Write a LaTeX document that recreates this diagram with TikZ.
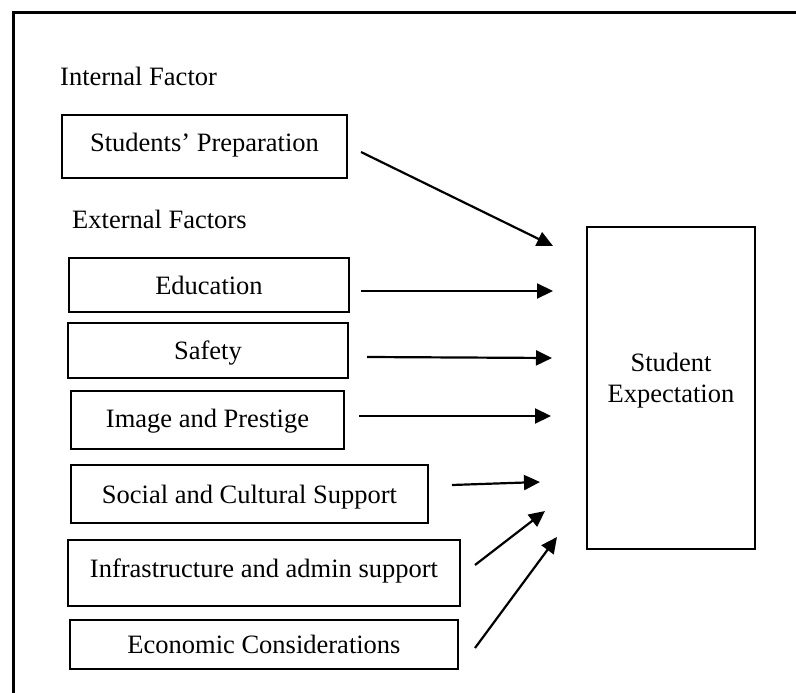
\documentclass[tikz,border=0pt]{standalone}
\usepackage{fontspec}
\setmainfont{Liberation Serif}
\usetikzlibrary{arrows.meta}
\begin{document}
\begin{tikzpicture}[x=1pt,y=-1pt,
  every node/.style={font=\fontsize{26.5}{31}\selectfont},
  factorbox/.style={draw, line width=2.2pt, inner sep=0pt, align=center,
    text height=18pt, text depth=0pt},
  heading/.style={anchor=base west, inner sep=0pt},
  link/.style={line width=2.2pt, -{Triangle[length=16pt,width=15pt]}}]
  \useasboundingbox (0,0) rectangle (796,693);
  % outer frame (top and left edges)
  \draw[line width=3pt] (13,693) -- (13,13) -- (796,13);

  % group headings
  \node[heading] (inthead) at (60,86) {Internal Factor};
  \node[heading] (exthead) at (72,228) {External Factors};

  % factor boxes
  \node[factorbox, minimum width=285pt, minimum height=63pt, text depth=9pt]
    (prep) at (204.5,146.5) {Students’ Preparation};
  \node[factorbox, minimum width=280pt, minimum height=54pt]
    (edu) at (209,285) {Education};
  \node[factorbox, minimum width=280pt, minimum height=55pt]
    (safe) at (208,350.5) {Safety};
  \node[factorbox, minimum width=273pt, minimum height=58pt, text depth=4pt]
    (img) at (207.5,420) {Image and Prestige};
  \node[factorbox, minimum width=357pt, minimum height=58pt]
    (soc) at (249.5,494) {Social and Cultural Support};
  \node[factorbox, minimum width=392pt, minimum height=66pt, text depth=10pt]
    (infra) at (264,573) {Infrastructure and admin support};
  \node[factorbox, minimum width=388pt, minimum height=49pt]
    (econ) at (264,644.5) {Economic Considerations};

  % outcome box
  \node[draw, line width=2.2pt, inner sep=0pt, minimum width=168pt,
    minimum height=322pt] (expect) at (671,388) {};
  \node[align=center, inner sep=0pt] (expecttext) at (671,381)
    {Student\\Expectation};

  % arrow end points
  \coordinate (prepS) at (361,152);  \coordinate (prepE) at (553,246);
  \coordinate (eduS) at (361,291);   \coordinate (eduE) at (553,291);
  \coordinate (safeS) at (367,357);  \coordinate (safeE) at (552,358);
  \coordinate (imgS) at (359,416);   \coordinate (imgE) at (551,416);
  \coordinate (socS) at (452,485);   \coordinate (socE) at (540,482);
  \coordinate (infraS) at (475,565); \coordinate (infraE) at (545,511);
  \coordinate (econS) at (475,648);  \coordinate (econE) at (557,537);

  % arrows towards the outcome
  \draw[link] (prepS) -- (prepE);
  \draw[link] (eduS) -- (eduE);
  \draw[link] (safeS) -- (safeE);
  \draw[link] (imgS) -- (imgE);
  \draw[link] (socS) -- (socE);
  \draw[link] (infraS) -- (infraE);
  \draw[link] (econS) -- (econE);
\end{tikzpicture}
\end{document}
